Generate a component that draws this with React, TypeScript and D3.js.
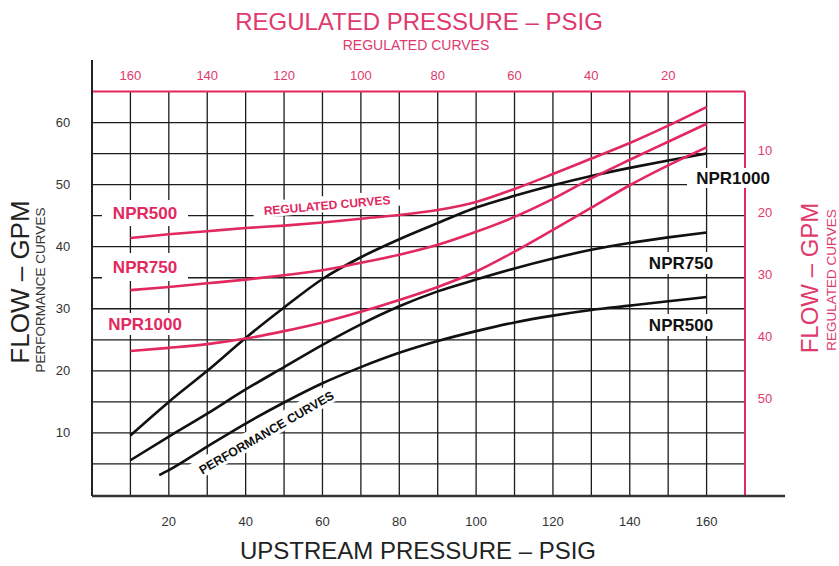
import React from "react";
import * as d3 from "d3";

// ---------- data ----------
// Performance curves (bottom axis: upstream pressure psig, left axis: flow gpm)
const perfPressure = [10, 20, 30, 40, 50, 60, 70, 80, 90, 100, 110, 120, 130, 140, 150, 160];
const perfNPR1000 = [9.6, 15, 20, 25.3, 30.2, 34.8, 38.3, 41.2, 43.8, 46.3, 48.2, 49.9, 51.4, 52.7, 53.9, 55];
const perfNPR750 = [5.6, 9.4, 13.1, 17, 20.6, 24.2, 27.5, 30.4, 32.8, 34.7, 36.5, 38.1, 39.5, 40.6, 41.5, 42.3];
const perfPressure500 = [17.5, 20, 30, 40, 50, 60, 70, 80, 90, 100, 110, 120, 130, 140, 150, 160];
const perfNPR500 = [3.2, 4, 7.8, 11.5, 14.9, 18, 20.6, 22.9, 24.8, 26.4, 27.8, 28.9, 29.8, 30.5, 31.2, 31.9];

// Regulated curves (top axis: regulated pressure psig, right axis: flow gpm)
const regPressure = [160, 150, 140, 130, 120, 110, 100, 90, 80, 70, 60, 50, 40, 30, 20, 10];
const regNPR500 = [23.6, 23, 22.5, 22, 21.6, 21.1, 20.5, 19.9, 19.1, 17.8, 15.7, 13.3, 10.8, 8.3, 5.5, 2.5];
const regNPR750 = [32, 31.5, 30.9, 30.3, 29.6, 28.8, 27.6, 26.3, 24.7, 22.6, 20.2, 17.3, 14.0, 11.0, 8.1, 5.2];
const regNPR1000 = [41.8, 41.3, 40.7, 39.8, 38.6, 37.2, 35.5, 33.6, 31.5, 29.0, 25.8, 22.3, 18.7, 15.1, 11.9, 9];

const bottomTicks = [20, 40, 60, 80, 100, 120, 140, 160];
const topTicks = [160, 140, 120, 100, 80, 60, 40, 20];
const leftTicks = [10, 20, 30, 40, 50, 60];
const rightTicks = [10, 20, 30, 40, 50];

const PINK = "#e2295f";
const PINK_TEXT = "#e0396d";
const FONT = "'Liberation Sans', Arial, Helvetica, sans-serif";

export default function App() {
  const W = 839;
  const H = 566;
  const x = d3.scaleLinear().domain([0, 170]).range([92, 745]);
  const y = d3.scaleLinear().domain([0, 65]).range([495, 91.5]);
  const xTop = d3.scaleLinear().domain([170, 0]).range([92, 745]);
  const yRight = d3.scaleLinear().domain([0, 65]).range([91.5, 495]);

  const vGrid = d3.range(10, 170, 10);
  const hGrid = d3.range(5, 65, 5);

  const perfLine = d3
    .line<[number, number]>()
    .x((d) => x(d[0]))
    .y((d) => y(d[1]))
    .curve(d3.curveMonotoneX);
  const regLine = d3
    .line<[number, number]>()
    .x((d) => xTop(d[0]))
    .y((d) => yRight(d[1]))
    .curve(d3.curveMonotoneX);

  const zip = (a: number[], b: number[]) => a.map((v, i) => [v, b[i]] as [number, number]);

  const perfSeries = [
    zip(perfPressure, perfNPR1000),
    zip(perfPressure, perfNPR750),
    zip(perfPressure500, perfNPR500),
  ];
  const regSeries = [
    zip(regPressure, regNPR500),
    zip(regPressure, regNPR750),
    zip(regPressure, regNPR1000),
  ];

  const boxes = [
    { cx: 145, cy: 213, w: 86, h: 26 },
    { cx: 145, cy: 267, w: 86, h: 28 },
    { cx: 145, cy: 324, w: 90, h: 22 },
    { cx: 733, cy: 178, w: 92, h: 20 },
    { cx: 681, cy: 263, w: 76, h: 22 },
    { cx: 681, cy: 325, w: 76, h: 22 },
  ];

  return (
    <svg
      width={W}
      height={H}
      style={{ position: "absolute", left: 0, top: 0, background: "#fff", fontFamily: FONT }}
    >
      <rect x={0} y={0} width={W} height={H} fill="#fff" />
      {/* gridlines */}
      {vGrid.map((v) => (
        <line key={"v" + v} x1={x(v)} x2={x(v)} y1={y(0)} y2={y(65)} stroke="#1c1c1c" strokeWidth={1.3} />
      ))}
      {hGrid.map((v) => (
        <line key={"h" + v} x1={x(0)} x2={x(170)} y1={y(v)} y2={y(v)} stroke="#1c1c1c" strokeWidth={1.3} />
      ))}
      {/* axes frame */}
      <line x1={x(0)} x2={x(170)} y1={y(65)} y2={y(65)} stroke={PINK} strokeWidth={2} />
      <line x1={x(170)} x2={x(170)} y1={y(65)} y2={496} stroke={PINK} strokeWidth={2} />
      <line x1={x(0)} x2={x(0)} y1={60} y2={496} stroke="#222" strokeWidth={2} />
      <line x1={x(0)} x2={785} y1={496} y2={496} stroke="#333" strokeWidth={2.5} />

      {/* label backgrounds */}
      {boxes.map((b, i) => (
        <rect key={"b" + i} x={b.cx - b.w / 2} y={b.cy - b.h / 2} width={b.w} height={b.h} fill="#fff" />
      ))}
      <g transform="translate(327,205) rotate(-5)">
        <rect x={-74} y={-9} width={148} height={16} fill="#fff" />
      </g>
      <g transform="translate(266,432) rotate(-30)">
        <rect x={-86} y={-10} width={172} height={18} fill="#fff" />
      </g>

      {/* curves */}
      {perfSeries.map((s, i) => (
        <path key={"p" + i} d={perfLine(s) || ""} fill="none" stroke="#111" strokeWidth={2.6} />
      ))}
      {regSeries.map((s, i) => (
        <path key={"r" + i} d={regLine(s) || ""} fill="none" stroke={PINK} strokeWidth={2.6} />
      ))}

      {/* tick labels */}
      {bottomTicks.map((t) => (
        <text key={"bt" + t} x={x(t)} y={526} textAnchor="middle" fontSize={13} fill="#333">
          {t}
        </text>
      ))}
      {topTicks.map((t) => (
        <text key={"tt" + t} x={xTop(t)} y={80} textAnchor="middle" fontSize={13} fill={PINK_TEXT}>
          {t}
        </text>
      ))}
      {leftTicks.map((t) => (
        <text key={"lt" + t} x={63} y={y(t) + 4.5} textAnchor="middle" fontSize={13} fill="#333">
          {t}
        </text>
      ))}
      {rightTicks.map((t) => (
        <text key={"rt" + t} x={765} y={yRight(t) + 1} textAnchor="middle" fontSize={13} fill={PINK_TEXT}>
          {t}
        </text>
      ))}

      {/* titles */}
      <text x={419} y={30} textAnchor="middle" fontSize={24} fill={PINK_TEXT}>
        REGULATED PRESSURE – PSIG
      </text>
      <text x={416} y={50} textAnchor="middle" fontSize={14} fill={PINK_TEXT}>
        REGULATED CURVES
      </text>
      <text x={418} y={559} textAnchor="middle" fontSize={24} fill="#222">
        UPSTREAM PRESSURE – PSIG
      </text>
      <text transform="translate(29,282) rotate(-90)" textAnchor="middle" fontSize={26} fill="#222">
        FLOW – GPM
      </text>
      <text transform="translate(45,290) rotate(-90)" textAnchor="middle" fontSize={13.5} fill="#333">
        PERFORMANCE CURVES
      </text>
      <text transform="translate(818,278) rotate(-90)" textAnchor="middle" fontSize={24} fill={PINK_TEXT}>
        FLOW – GPM
      </text>
      <text transform="translate(836,280) rotate(-90)" textAnchor="middle" fontSize={13.5} fill={PINK_TEXT}>
        REGULATED CURVES
      </text>

      {/* series labels */}
      {[
        { t: "NPR500", cx: 145, cy: 213 },
        { t: "NPR750", cx: 145, cy: 267 },
        { t: "NPR1000", cx: 145, cy: 324 },
      ].map((l) => (
        <text key={"pl" + l.t} x={l.cx} y={l.cy + 6} textAnchor="middle" fontSize={17} fontWeight="bold" fill={PINK}>
          {l.t}
        </text>
      ))}
      {[
        { t: "NPR1000", cx: 733, cy: 178 },
        { t: "NPR750", cx: 681, cy: 263 },
        { t: "NPR500", cx: 681, cy: 325 },
      ].map((l) => (
        <text key={"bl" + l.t} x={l.cx} y={l.cy + 6} textAnchor="middle" fontSize={17} fontWeight="bold" fill="#111">
          {l.t}
        </text>
      ))}
      <text transform="translate(327,205) rotate(-5)" y={4.5} textAnchor="middle" fontSize={12} fontWeight="bold" fill={PINK}>
        REGULATED CURVES
      </text>
      <text transform="translate(266,432) rotate(-30)" y={5} textAnchor="middle" fontSize={12.5} fontWeight="bold" fill="#111">
        PERFORMANCE CURVES
      </text>
    </svg>
  );
}
